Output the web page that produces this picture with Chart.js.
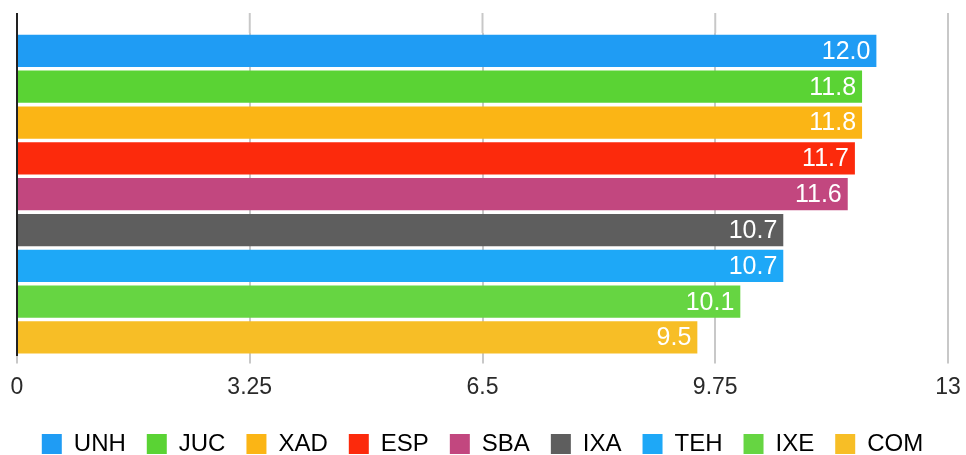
<!DOCTYPE html>
<html>
<head>
<meta charset="utf-8">
<script src="https://cdn.jsdelivr.net/npm/chart.js@4/dist/chart.umd.min.js"></script>
<style>
  html, body { margin: 0; padding: 0; background: #fff; }
  #wrap { width: 966px; height: 455px; }
</style>
</head>
<body>
<div id="wrap"><canvas id="c" width="966" height="455"></canvas></div>
<script>
// Categories and values, top to bottom
const categories = ['UNH', 'JUC', 'XAD', 'ESP', 'SBA', 'IXA', 'TEH', 'IXE', 'COM'];
const values = [12.0, 11.8, 11.8, 11.7, 11.6, 10.7, 10.7, 10.1, 9.5];
const barColors = ['#1f9cf4', '#5ad334', '#fbb515', '#fc2a0c', '#c2477f', '#5e5e5e', '#1ea8f7', '#66d542', '#f7be26'];
const xTicks = [0, 3.25, 6.5, 9.75, 13];

const FONT = '"Liberation Sans", Arial, sans-serif';

// Value labels drawn inside the right end of each bar
const valueLabels = {
  id: 'valueLabels',
  afterDatasetsDraw(chart) {
    const ctx = chart.ctx;
    const meta = chart.getDatasetMeta(0);
    ctx.save();
    ctx.font = '25px ' + FONT;
    ctx.fillStyle = '#ffffff';
    ctx.textAlign = 'right';
    ctx.textBaseline = 'middle';
    meta.data.forEach((bar, i) => {
      ctx.fillText(values[i].toFixed(1), bar.x - 6, bar.y + 1);
    });
    ctx.restore();
  }
};

// Grid lines and the left axis line continue above the bars
const topExtension = {
  id: 'topExtension',
  beforeDatasetsDraw(chart) {
    const ctx = chart.ctx;
    const xs = chart.scales.x;
    const top = chart.chartArea.top;
    const rise = 20;
    ctx.save();
    ctx.lineWidth = 2;
    xs.ticks.forEach(t => {
      const px = xs.getPixelForValue(t.value);
      ctx.beginPath();
      ctx.strokeStyle = t.value === 0 ? '#222222' : '#c8c8c8';
      ctx.moveTo(px, top - rise);
      ctx.lineTo(px, top);
      ctx.stroke();
    });
    ctx.restore();
  }
};

new Chart(document.getElementById('c'), {
  type: 'bar',
  data: {
    labels: categories,
    datasets: [{
      data: values,
      backgroundColor: barColors,
      borderWidth: 0,
      barPercentage: 0.9,
      categoryPercentage: 1.0
    }]
  },
  options: {
    indexAxis: 'y',
    responsive: false,
    animation: false,
    layout: { padding: { left: 17, right: 18, top: 33, bottom: -11 } },
    scales: {
      x: {
        min: 0,
        max: 13,
        afterBuildTicks(scale) { scale.ticks = xTicks.map(v => ({ value: v })); },
        afterFit(scale) { scale.paddingRight = 0; scale.paddingLeft = 0; },
        ticks: {
          color: '#2a2a2a',
          font: { family: FONT, size: 23 },
          padding: 10,
          maxRotation: 0,
          callback: v => String(v)
        },
        grid: { color: '#c8c8c8', lineWidth: 2, tickLength: 8, drawOnChartArea: true },
        border: { display: false }
      },
      y: {
        ticks: { display: false },
        grid: { display: false, drawTicks: false },
        border: { display: true, color: '#222222', width: 2 }
      }
    },
    plugins: {
      tooltip: { enabled: false },
      legend: {
        position: 'bottom',
        labels: {
          color: '#2a2a2a',
          font: { family: FONT, size: 24 },
          boxWidth: 20,
          boxHeight: 20,
          padding: 21,
          generateLabels() {
            return categories.map((c, i) => ({
              text: c,
              fillStyle: barColors[i],
              strokeStyle: barColors[i],
              lineWidth: 0,
              hidden: false,
              index: i
            }));
          }
        }
      }
    }
  },
  plugins: [topExtension, valueLabels]
});
</script>
</body>
</html>
